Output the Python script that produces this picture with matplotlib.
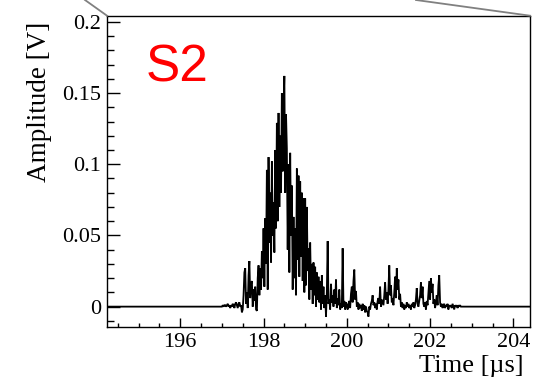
import numpy as np
import matplotlib
matplotlib.use("Agg")
import matplotlib.pyplot as plt
from matplotlib.lines import Line2D

# ---- data -------------------------------------------------------------
X_LIMITS = (194.24, 204.40)          # time axis range [µs]
Y_LIMITS = (-0.0143, 0.2043)         # amplitude range [V]
X_TICKS = [196, 198, 200, 202, 204]
Y_TICKS = [0, 0.05, 0.1, 0.15, 0.2]
Y_TICK_LABELS = ["0", "0.05", "0.1", "0.15", "0.2"]

T_START = 197.00                     # first non-flat sample [µs]
DT = 0.02                            # sample spacing [µs]

# amplitude in mV, one row per 0.5 µs
amp_mv = [
    0, 1, 0, 1, 1, 0, 1, 2, 0, 1, -1, 1, 0, 2, 1, -1, 2, 3, 1, -1, 2, 3, 0, 1, -4,
    -2, 8, 24, 27, 2, 10, -1, 22, 32, 6, 16, 18, 0, 12, 4, 14, -2, -3, 20, 29, 8, 27, 12, 39, 20,
    55, 14, 62, 30, 96, 12, 105, 45, 80, 31, 102, 50, 73, 38, 110, 55, 129, 60, 136, 70, 120, 80, 150, 95, 140,
    162, 80, 135, 111, 40, 100, 24, 108, 50, 85, 12, 63, 20, 55, 8, 97, 33, 92, 21, 88, 35, 80, 18, 76, 10,
    76, 15, 70, 25, 41, 5, 45, 12, 30, 2, 31, 8, 28, 0, 24, 5, 21, 3, 18, -2, 22, 2, 14, -1, 8,
    -7, 10, 46, 2, 5, -2, 16, 3, 8, 0, 12, 2, 19, -1, 6, 1, 12, -2, 2, -1, 41, 0, 4, -2, 3,
    1, -2, 2, 4, -1, 9, 14, 3, 18, 26, 5, 11, 0, 3, -2, 2, -1, 1, -3, 2, -2, 1, -4, 0, -3,
    -4, -7, 0, -2, 2, 4, 8, 1, 3, -1, 2, -2, 4, 6, 2, 14, 0, 5, 3, 1, 8, 17, 5, 10, 2,
    12, 29, 8, 15, 3, 6, 1, 10, 21, 6, 27, 12, 19, 5, 9, 0, 3, -1, 2, -2, 1, -1, 3, 0, 2,
    -1, 1, -2, 2, 0, 3, -1, 1, 5, 13, 2, 0, 4, 8, 17, 6, 14, 2, 0, 3, -2, 4, 1, 9, 18,
    5, 20, 10, 16, 2, 5, -1, 3, 8, 1, 15, 22, 3, 0, 2, -1, 1, 2, -1, 1, 0, 2, -2, 1, 0,
    1, -1, 2, 0, -2, 1, 0, 1, -1, 1, 0, 1, 0,
]

# ---- figure ------------------------------------------------------------
W, H = 552, 382
fig = plt.figure(figsize=(W / 100, H / 100), dpi=100)
fig.patch.set_facecolor("white")

L, R, T, B = 107, 530, 15.7, 327
ax = fig.add_axes([L / W, 1 - B / H, (R - L) / W, (B - T) / H])

t = T_START + DT * np.arange(len(amp_mv))
v = np.asarray(amp_mv, dtype=float) / 1000.0
t_full = np.concatenate([[X_LIMITS[0]], t, [X_LIMITS[1]]])
v_full = np.concatenate([[0.0], v, [0.0]])
ax.plot(t_full, v_full, color="black", lw=1.3, solid_joinstyle="miter")

ax.set_xlim(*X_LIMITS)
ax.set_ylim(*Y_LIMITS)

serif = ["Liberation Serif", "DejaVu Serif"]
ax.set_xticks(X_TICKS)
ax.set_xticklabels([str(x) for x in X_TICKS], family=serif, fontsize=16)
ax.set_yticks(Y_TICKS)
ax.set_yticklabels(Y_TICK_LABELS, family=serif, fontsize=16)
ax.set_xticks(np.arange(194.5, 204.41, 0.5), minor=True)
ax.set_yticks(np.arange(-0.01, 0.201, 0.01), minor=True)

ax.tick_params(axis="both", which="both", direction="in", color="black",
               top=False, right=False, width=1.0)
ax.tick_params(axis="y", which="major", length=9.0, pad=4)
ax.tick_params(axis="y", which="minor", length=4.8)
ax.tick_params(axis="x", which="major", length=6.5, pad=4)
ax.tick_params(axis="x", which="minor", length=3.2)

for s in ax.spines.values():
    s.set_linewidth(1.0)
    s.set_color("black")

# axis titles
fig.text(40 / W, 1 - 101.5 / H, "Amplitude [V]", rotation=90, ha="center",
         va="center", family=serif, fontsize=19.5)
fig.text(524 / W, 1 - 372 / H, "Time [\u00b5s]", ha="right", va="baseline",
         family=serif, fontsize=19)

# S2 label
fig.text(146 / W, 1 - 82 / H, "S2", ha="left", va="baseline",
         family=["Liberation Sans", "DejaVu Sans"], fontsize=37, color="#ff0000")

# grey zoom-indicator lines
fig.add_artist(Line2D([85 / W, L / W], [1.0, 1 - T / H], color="#808080", lw=1.3))
fig.add_artist(Line2D([416 / W, R / W], [1.0, 1 - T / H], color="#808080", lw=1.3))

fig.savefig("out.png", dpi=100, facecolor="white")
